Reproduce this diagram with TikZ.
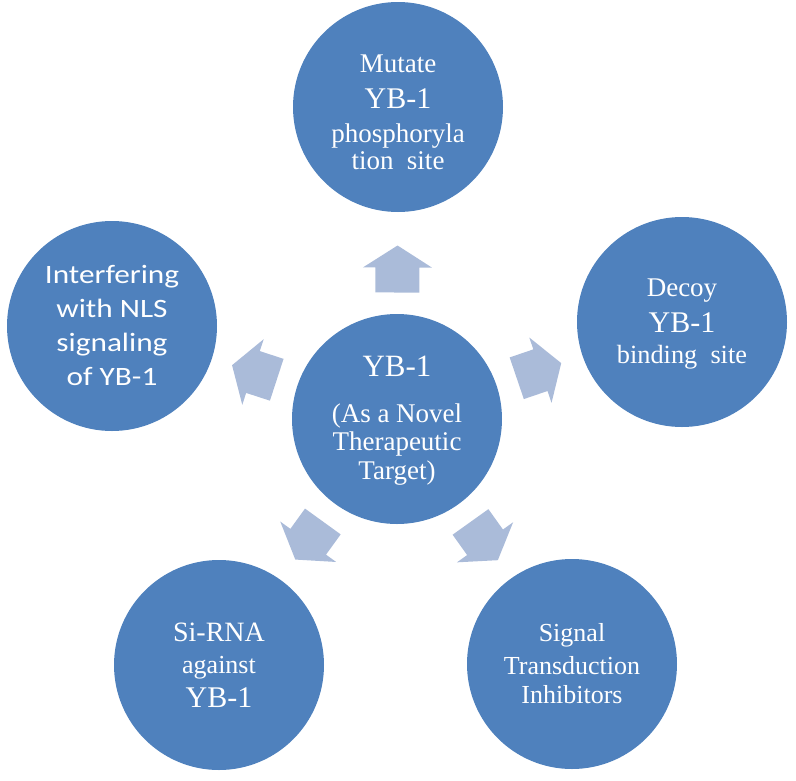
\documentclass[tikz,border=0pt]{standalone}
\usepackage{fontspec}
\setmainfont{Liberation Serif}
\newfontfamily\calfont[FakeStretch=1.18]{Carlito}
\usetikzlibrary{calc}
\definecolor{circblue}{RGB}{79,129,189}
\definecolor{arrblue}{RGB}{170,187,217}
\tikzset{
  bubble/.style={circle, fill=circblue, minimum size=210pt, inner sep=0pt},
  lbl/.style={text=white, align=center, inner sep=0pt, font=\fontsize{27}{30}\selectfont},
  blockarrow/.pic={\fill[arrblue] (-23.5,-22) -- (1.5,-22) -- (1.5,-34.5) -- (23.5,0)
    -- (1.5,34.5) -- (1.5,22) -- (-23.5,22) -- cycle;}
}
\begin{document}
\begin{tikzpicture}[x=1pt,y=-1pt]
\useasboundingbox (0,0) rectangle (796,780);
\node[bubble] (c) at (397,419) {};
\node[bubble] (t) at (398,107) {};
\node[bubble] (r) at (682,322) {};
\node[bubble] (br) at (572,664) {};
\node[bubble] (bl) at (219,665) {};
\node[bubble] (l) at (112,326) {};
\node[lbl] (ct) at ($(c)+(0,2)$) {{\fontsize{31}{30}\selectfont YB-1}\\[16pt] (As a Novel\\[-2pt] Therapeutic\\[-1pt] Target)};
\node[lbl] (tt) at ($(t)+(0,5)$) {Mutate\\[6pt] {\fontsize{30}{30}\selectfont YB-1}\\[4pt] phosphoryla\\[-3pt] tion\ \ site};
\node[lbl] (rt) at ($(r)+(0,2)$) {Decoy\\[6pt] {\fontsize{30}{30}\selectfont YB-1}\\[1pt] {\fontsize{26.3}{30}\selectfont binding\ \ site}};
\node[lbl, font=\fontsize{26}{30}\selectfont] (brt) at (br) {Signal\\[3pt] Transduction\\[-1pt] Inhibitors};
\node[lbl] (blt) at (bl) {{\fontsize{28}{30}\selectfont Si-RNA}\\[2pt] {\fontsize{26}{30}\selectfont against}\\[4pt] {\fontsize{30}{30}\selectfont YB-1}};
\node[lbl, font=\calfont\fontsize{26.5}{34}\selectfont] (lt) at ($(l)+(0,-1)$) {Interfering\\ with NLS\\ signaling\\ of YB-1};
\foreach \o in {t,r,br,bl,l}{
  \path let \p1=($(\o)-(c)$), \n1={atan2(\y1,\x1)} in
    ($(c)!150pt!(\o)$) pic[rotate=\n1] {blockarrow};
}
\end{tikzpicture}
\end{document}
